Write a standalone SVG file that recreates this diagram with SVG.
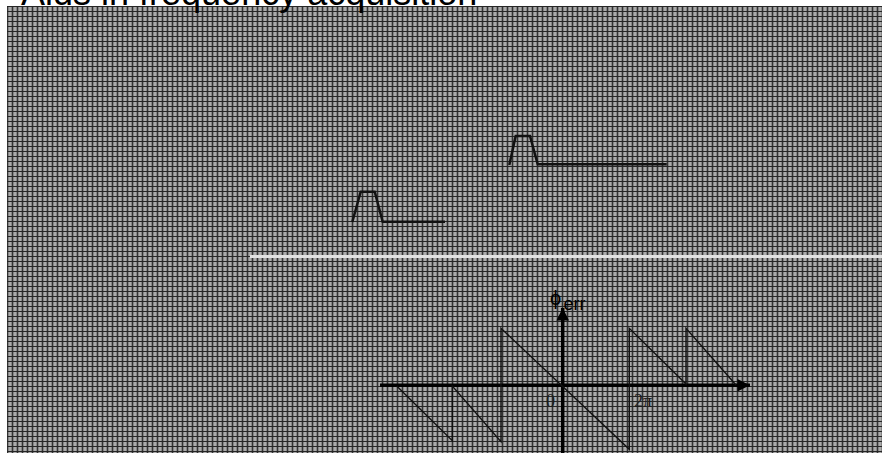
<svg xmlns="http://www.w3.org/2000/svg" width="882" height="453" viewBox="0 0 882 453">
<style>
.title{font-family:"Liberation Sans",Arial,sans-serif;font-size:36px;fill:#000}
.curve{fill:none;stroke:#111;stroke-width:2.5;stroke-linejoin:miter}
.saw{fill:none;stroke:#111;stroke-width:1.4}
.axis{stroke:#000;stroke-width:3.5;fill:none}
.tick{font-family:"Liberation Serif","Times New Roman",serif;font-size:18px;fill:#1a1a1a}
.lbl{font-family:"Liberation Sans",Arial,sans-serif;fill:#000}
</style>
<defs>
<pattern id="grid" patternUnits="userSpaceOnUse" x="7" y="6" width="5" height="5">
<rect width="5" height="5" fill="#858585"/>
<rect x="2" y="0" width="2" height="5" fill="#ababab"/>
<rect x="0" y="0" width="1" height="5" fill="#333"/>
<rect x="0" y="0" width="5" height="1" fill="#262626"/>
</pattern>
<marker id="ah" viewBox="0 0 10 10" refX="10" refY="5" markerWidth="3.6" markerHeight="3.6" orient="auto" markerUnits="strokeWidth">
<path d="M0,0 L10,5 L0,10 Z" fill="#000"/>
</marker>
</defs>
<rect width="882" height="453" fill="#fff"/>
<rect id="background" x="7" y="6" width="875" height="447" fill="url(#grid)"/>
<text class="title" x="21" y="5">Aids in frequency acquisition</text>
<rect id="divider" x="250" y="255" width="632" height="3" fill="#e2e2e2"/>
<g id="filter-upper">
<polyline class="curve" points="509.3,165 515.7,136 530,136 537.7,164.3 666.7,164.3"/>
</g>
<g id="filter-lower">
<polyline class="curve" points="352.3,222 360.7,191.7 374.7,191.7 382.7,221.7 445,221.7"/>
</g>
<g id="connectors">
<line class="axis" x1="380" y1="385.3" x2="750" y2="385.3" marker-end="url(#ah)"/>
<line class="axis" x1="562.7" y1="453" x2="562.7" y2="308" marker-end="url(#ah)"/>
</g>
<g id="sawtooth">
<polyline class="saw" points="396.7,386 452.3,440.7 452.3,386 501,441.7 501,328.3 629.3,449.3 629.3,328.3 686,384 686,328.3 736,385"/>
</g>
<g id="labels">
<text class="lbl" x="550" y="305" font-size="20">ϕ</text>
<text class="lbl" x="563.5" y="309.5" font-size="18">err</text>
<text class="tick" x="546" y="407">0</text>
<text class="tick" x="634" y="407">2π</text>
</g>
</svg>
